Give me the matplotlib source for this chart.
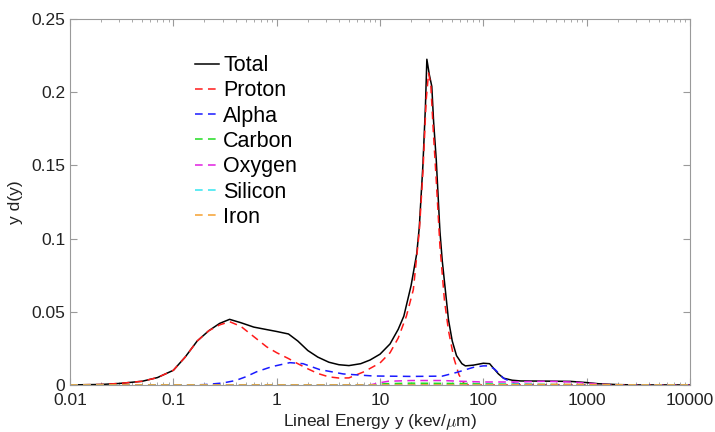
import matplotlib
matplotlib.use("Agg")
import matplotlib.pyplot as plt
from matplotlib.ticker import FixedLocator, LogLocator, NullFormatter

# lineal energy y (keV/um) and y*d(y)
total_x = [0.01, 0.02, 0.03, 0.05, 0.07, 0.1, 0.13, 0.17, 0.22, 0.28, 0.35, 0.45, 0.6, 0.8,
           1.0, 1.3, 1.6, 2.0, 2.5, 3.2, 4.0, 5.0, 6.5, 8.0, 10, 12.5, 15, 17, 20, 22.7, 24,
           26, 27.5, 28.4, 30, 31.7, 33, 35, 38, 40, 46, 50, 55, 62, 67, 80, 100, 115, 125,
           140, 157, 190, 230, 400, 700, 1000, 1300, 2000, 3000, 10000]
total_y = [0, 0.0003, 0.001, 0.0025, 0.005, 0.010, 0.019, 0.030, 0.037, 0.042, 0.0448, 0.0425,
           0.0395, 0.0378, 0.0365, 0.0348, 0.030, 0.0235, 0.019, 0.0155, 0.0138, 0.0132, 0.0145,
           0.017, 0.021, 0.028, 0.038, 0.047, 0.068, 0.090, 0.108, 0.150, 0.19, 0.2225, 0.212,
           0.204, 0.18, 0.154, 0.105, 0.085, 0.0444, 0.030, 0.020, 0.0145, 0.013, 0.0135, 0.0148,
           0.0145, 0.0115, 0.0075, 0.0046, 0.0032, 0.0027, 0.0026, 0.0024, 0.0016, 0.0008,
           0.0002, 0, 0]

proton_x = [0.01, 0.02, 0.03, 0.05, 0.07, 0.1, 0.13, 0.17, 0.22, 0.28, 0.35, 0.45, 0.6, 0.8,
            1.0, 1.3, 1.6, 2.0, 2.5, 3.2, 4.0, 5.0, 7.0, 10, 12.5, 15, 18, 21, 24, 26, 28,
            29.5, 31, 33, 35, 38, 42, 46, 52, 58, 65, 70, 10000]
proton_y = [0, 0.0003, 0.001, 0.0025, 0.005, 0.010, 0.019, 0.030, 0.037, 0.041, 0.0432, 0.040,
            0.033, 0.026, 0.022, 0.018, 0.0145, 0.011, 0.0078, 0.0055, 0.0047, 0.0048, 0.009,
            0.015, 0.022, 0.032, 0.047, 0.065, 0.105, 0.145, 0.195, 0.213, 0.205, 0.17, 0.14,
            0.095, 0.058, 0.037, 0.018, 0.007, 0.001, 0, 0]

alpha_x = [0.01, 0.15, 0.2, 0.3, 0.4, 0.5, 0.64, 0.9, 1.34, 1.8, 2.6, 4.4, 8.6, 20, 40, 55,
           80, 100, 115, 130, 157, 200, 300, 500, 10000]
alpha_y = [0, 0, 0.0002, 0.0013, 0.003, 0.0055, 0.009, 0.0125, 0.0152, 0.0145, 0.0105, 0.0075,
           0.0061, 0.0058, 0.006, 0.0085, 0.012, 0.013, 0.013, 0.0105, 0.0045, 0.001, 0.0002, 0, 0]

carbon_x = [0.01, 9, 11, 20, 50, 100, 200, 400, 600, 10000]
carbon_y = [0, 0, 0.0008, 0.0012, 0.001, 0.0008, 0.0005, 0.0002, 0, 0]

oxygen_x = [0.01, 8, 10, 12, 20, 40, 60, 100, 200, 400, 700, 1000, 1500, 2000, 10000]
oxygen_y = [0, 0, 0.0015, 0.0025, 0.003, 0.003, 0.0025, 0.002, 0.002, 0.0025, 0.002, 0.0012,
            0.0003, 0, 0]

silicon_x = [0.01, 50, 100, 200, 400, 800, 1500, 10000]
silicon_y = [0, 0, 0.0003, 0.0005, 0.0004, 0.0002, 0, 0]

iron_x = [0.01, 100, 200, 500, 1000, 2000, 3000, 10000]
iron_y = [0, 0, 0.0002, 0.0004, 0.0003, 0.0001, 0, 0]

xticks = [0.01, 0.1, 1, 10, 100, 1000, 10000]
xtick_labels = ["0.01", "0.1", "1", "10", "100", "1000", "10000"]
yticks = [0, 0.05, 0.1, 0.15, 0.2, 0.25]
ytick_labels = ["0", "0.05", "0.1", "0.15", "0.2", "0.25"]

plt.rcParams["font.family"] = ["Liberation Sans", "DejaVu Sans"]
plt.rcParams["mathtext.fontset"] = "cm"

fig = plt.figure(figsize=(7.15, 4.32), dpi=100)
ax = fig.add_axes([0.098, 0.109, 0.867, 0.847])

dash = (0, (5, 3.5))
ax.plot(total_x, total_y, color="black", lw=1.1, label="Total")
ax.plot(proton_x, proton_y, color="#ff1a1a", lw=1.1, linestyle=dash, label="Proton")
ax.plot(alpha_x, alpha_y, color="#1a1aff", lw=1.1, linestyle=dash, label="Alpha")
ax.plot(carbon_x, carbon_y, color="#22dd22", lw=1.1, linestyle=dash, label="Carbon")
ax.plot(oxygen_x, oxygen_y, color="#e020e0", lw=1.1, linestyle=dash, label="Oxygen")
ax.plot(silicon_x, silicon_y, color="#33e5f0", lw=1.1, linestyle=dash, label="Silicon")
ax.plot(iron_x, iron_y, color="#f5a030", lw=1.1, linestyle=dash, label="Iron")

ax.set_xscale("log")
ax.set_xlim(0.01, 10000)
ax.set_ylim(0, 0.25)
ax.xaxis.set_major_locator(FixedLocator(xticks))
ax.set_xticklabels(xtick_labels)
ax.xaxis.set_minor_locator(LogLocator(base=10, subs=range(2, 10), numticks=20))
ax.xaxis.set_minor_formatter(NullFormatter())
ax.set_yticks(yticks)
ax.set_yticklabels(ytick_labels)

for s in ax.spines.values():
    s.set_color("#9a9a9a")
    s.set_linewidth(0.8)
ax.tick_params(which="both", direction="in", top=True, right=True, colors="#9a9a9a",
               labelcolor="#222222", labelsize=12.5)
ax.tick_params(which="major", length=5)
ax.tick_params(which="minor", length=2.5)
ax.tick_params(axis="x", which="major", pad=6)

ax.set_xlabel(r"Lineal Energy y (kev/$\mu$m)", fontsize=12.5, color="#222222", labelpad=3)
ax.set_ylabel("y d(y)", fontsize=12.5, color="#222222", labelpad=6)

ax.legend(loc="upper left", bbox_to_anchor=(0.188, 0.925), frameon=False, fontsize=15.5,
          handlelength=1.1, handletextpad=0.2, labelspacing=0.2, borderaxespad=0)

fig.savefig("out.png", dpi=100)
